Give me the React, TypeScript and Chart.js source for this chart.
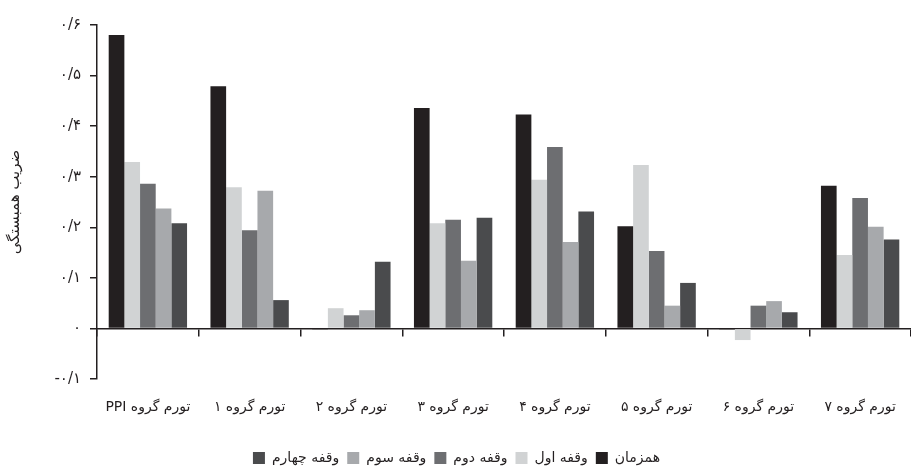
import React, { useEffect, useRef } from "react";
import { Chart, registerables } from "chart.js";

Chart.register(...registerables);

const categories = [
  "تورم گروه PPI",
  "تورم گروه ۱",
  "تورم گروه ۲",
  "تورم گروه ۳",
  "تورم گروه ۴",
  "تورم گروه ۵",
  "تورم گروه ۶",
  "تورم گروه ۷",
];

const seriesNames = ["همزمان", "وقفه اول", "وقفه دوم", "وقفه سوم", "وقفه چهارم"];

const simultaneous = [0.58, 0.479, -0.002, 0.436, 0.423, 0.202, -0.002, 0.282];
const lag1 = [0.329, 0.279, 0.04, 0.208, 0.294, 0.323, -0.023, 0.145];
const lag2 = [0.286, 0.194, 0.026, 0.215, 0.359, 0.153, 0.045, 0.258];
const lag3 = [0.237, 0.272, 0.036, 0.134, 0.171, 0.045, 0.054, 0.201];
const lag4 = [0.208, 0.056, 0.132, 0.219, 0.231, 0.09, 0.032, 0.176];

const seriesColors = ["#231f20", "#d1d3d4", "#6d6e71", "#a7a9ac", "#4a4b4d"];

const yTickValues = [-0.1, 0, 0.1, 0.2, 0.3, 0.4, 0.5, 0.6];
const yTickLabels = ["-۰/۱", "۰", "۰/۱", "۰/۲", "۰/۳", "۰/۴", "۰/۵", "۰/۶"];

const yTitle = "ضریب همبستگی";

const FONT = "'DejaVu Sans', sans-serif";
const INK = "#231f20";

export default function App() {
  const canvasRef = useRef<HTMLCanvasElement | null>(null);

  useEffect(() => {
    if (!canvasRef.current) return;
    const seriesValues = [simultaneous, lag1, lag2, lag3, lag4];
    const chart = new Chart(canvasRef.current, {
      type: "bar",
      data: {
        labels: categories.map((c) => "\u202B" + c + "\u202C"),
        datasets: seriesNames.map((name, i) => ({
          label: name,
          data: seriesValues[i],
          backgroundColor: seriesColors[i],
          borderWidth: 0,
          barPercentage: 1,
          categoryPercentage: 0.77,
          xAxisID: "x",
        })),
      },
      options: {
        animation: false,
        responsive: true,
        maintainAspectRatio: false,
        layout: { padding: { top: 25, right: -2, left: 0, bottom: 0 } },
        plugins: {
          legend: {
            position: "bottom",
            reverse: true,
            labels: {
              font: { family: FONT, size: 14 },
              color: INK,
              boxWidth: 12,
              boxHeight: 12,
              padding: 8,
            },
          },
          tooltip: { enabled: false },
        },
        scales: {
          x: {
            type: "category",
            position: { y: 0 } as any,
            offset: true,
            grid: {
              offset: true,
              drawOnChartArea: false,
              drawTicks: true,
              tickLength: 7,
              color: INK,
              lineWidth: 1.5,
            },
            border: { display: true, color: INK, width: 1.5 },
            ticks: { display: false },
          },
          x2: {
            type: "category",
            position: "bottom",
            offset: true,
            grid: { display: false },
            border: { display: false },
            afterFit: (scale: any) => {
              scale.height = 64;
            },
            ticks: {
              color: INK,
              font: { family: FONT, size: 14 },
              padding: 12,
              maxRotation: 0,
              autoSkip: false,
            },
          },
          y: {
            min: -0.1,
            max: 0.6,
            afterFit: (scale: any) => {
              scale.width = 97;
            },
            afterBuildTicks: (scale: any) => {
              scale.ticks = yTickValues.map((v) => ({ value: v }));
            },
            grid: {
              drawOnChartArea: false,
              drawTicks: true,
              tickLength: 7,
              color: INK,
              lineWidth: 1.5,
            },
            border: { display: true, color: INK, width: 1.5 },
            ticks: {
              color: INK,
              font: { family: FONT, size: 15 },
              padding: 9,
              callback: (value: any) => {
                const idx = yTickValues.findIndex((v) => Math.abs(v - Number(value)) < 1e-6);
                return idx >= 0 ? yTickLabels[idx] : "";
              },
            },
            title: {
              display: true,
              text: yTitle,
              color: INK,
              font: { family: FONT, size: 15 },
              padding: { top: 6, bottom: 0 },
            },
          },
        },
      },
    });
    return () => chart.destroy();
  }, []);

  return (
    <div style={{ position: "absolute", left: 0, top: 0, width: 911, height: 475, background: "#fff" }}>
      <canvas ref={canvasRef} />
    </div>
  );
}
